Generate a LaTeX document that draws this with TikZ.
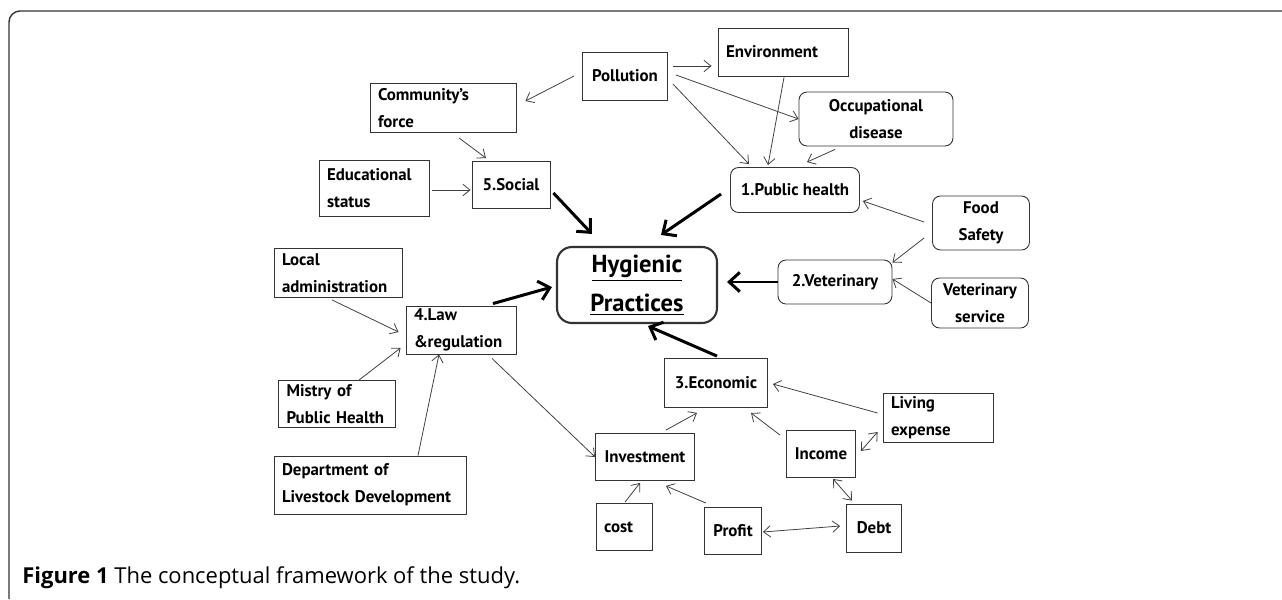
\documentclass[tikz,border=0pt]{standalone}
\usepackage{fontspec}
\usepackage{tikz}
\usetikzlibrary{arrows.meta,calc}
\newfontfamily\diagfont{PT Sans}
\newfontfamily\capfont{Open Sans}

\begin{document}
\begin{tikzpicture}[x=0.02cm,y=-0.02cm,
  box/.style={draw=black!80, line width=0.5pt, inner sep=0pt, align=center,
    font=\diagfont\bfseries\fontsize{9.6}{15.5}\selectfont},
  lbox/.style={box, align=left, inner xsep=0.16cm},
  rbox/.style={box, rounded corners=0.16cm},
  link/.style={draw=black!75, line width=0.45pt, -{Straight Barb[length=4pt,width=6.5pt]}},
  both/.style={link, {Straight Barb[length=4pt,width=6.5pt]}-{Straight Barb[length=4pt,width=6.5pt]}},
  main/.style={line width=1.7pt, -{Straight Barb[length=6pt,width=11pt]}}]
\useasboundingbox (0,0) rectangle (1282,599);
\draw[black!80, line width=0.8pt, rounded corners=0.22cm] (9,599) -- (9,11) -- (1282,11);

% boxes
\node[box, minimum width=1.70cm, minimum height=0.96cm] (poll) at (625,76) {Pollution};
\node[lbox, text width=2.28cm, minimum height=0.96cm] (env) at (783,52) {Environment};
\node[lbox, text width=2.60cm, minimum height=0.98cm] (comm) at (443,108) {Community’s\\force};
\node[rbox, minimum width=3.08cm, minimum height=1.08cm] (occ) at (876,119) {Occupational\\disease};
\node[rbox, minimum width=2.58cm, minimum height=0.90cm] (ph) at (795,190) {1.Public health};
\node[lbox, text width=1.88cm, minimum height=1.12cm] (edu) at (374,188) {Educational\\status};
\node[box, minimum width=1.56cm, minimum height=0.94cm] (soc) at (511,185) {5.Social};
\node[box, line width=1.2pt, rounded corners=0.3cm, minimum width=3.20cm, minimum height=1.52cm,
  font=\diagfont\bfseries\fontsize{14}{22}\selectfont] (hyg) at (637,285) {\underline{Hygienic}\\\underline{Practices}};
\node[lbox, text width=2.24cm, minimum height=0.98cm] (loc) at (338,273) {Local\\administration};
\node[lbox, text width=1.88cm, minimum height=0.96cm] (law) at (461,330) {4.Law\\\&regulation};
\node[rbox, minimum width=2.28cm, minimum height=0.88cm] (vet) at (835,282) {2.Veterinary};
\node[rbox, minimum width=1.94cm, minimum height=1.08cm] (food) at (981,223) {Food\\Safety};
\node[rbox, minimum width=1.94cm, minimum height=1.00cm] (vserv) at (980,303) {Veterinary\\service};
\node[box, minimum width=2.06cm, minimum height=0.98cm] (eco) at (716,383) {3.Economic};
\node[lbox, text width=1.88cm, minimum height=0.98cm] (liv) at (938,418) {Living\\expense};
\node[box, minimum width=1.38cm, minimum height=0.94cm] (inc) at (821,454) {Income};
\node[box, minimum width=1.10cm, minimum height=0.96cm] (debt) at (874,528) {Debt};
\node[lbox, text width=2.02cm, minimum height=0.94cm] (mis) at (337,404) {Mistry of\\Public Health};
\node[lbox, text width=3.52cm, minimum height=1.16cm] (dep) at (370,485) {Department of\\Livestock Development};
\node[box, minimum width=1.98cm, minimum height=0.94cm] (inv) at (645,457) {Investment};
\node[lbox, text width=0.80cm, minimum height=0.94cm] (cost) at (624,527) {cost};
\node[box, minimum width=1.14cm, minimum height=0.94cm] (prof) at (733,531) {Profit};

% thin links
\draw[link] ($(poll.east)+(5,-10)$) -- ($(env.west)+(-6,14)$);
\draw[link] ($(poll.west)+(-8,0)$) -- ($(comm.east)+(9,-7)$);
\draw[link] ($(poll.east)+(8,-1)$) -- (occ.west);
\draw[link] ($(poll.east)+(5,8)$) -- ($(ph.north)+(-46,-3)$);
\draw[link] ($(env.south)+(1,1)$) -- ($(ph.north)+(-27,-2)$);
\draw[link] ($(occ.south)+(-41,3)$) -- ($(ph.north)+(12,-5)$);
\draw[link] ($(comm.south)+(16,5)$) -- ($(soc.north)+(-25,-3)$);
\draw[link] ($(edu.east)+(3,2)$) -- ($(soc.west)+(-1,5)$);
\draw[link] ($(food.west)+(-8,-1)$) -- ($(ph.east)+(3,11)$);
\draw[link] ($(food.west)+(-8,15)$) -- ($(vet.north east)+(0,3)$);
\draw[link] (vserv.west) -- ($(vet.east)+(0,-3)$);
\draw[link] ($(liv.west)+(-5,-5)$) -- ($(eco.east)+(5,1)$);
\draw[link] ($(inc.north west)+(-6,5)$) -- ($(eco.south)+(35,5)$);
\draw[link] ($(inv.north)+(21,-3)$) -- ($(eco.south)+(-19,5)$);
\draw[both] ($(inc.east)+(5,-3)$) -- ($(liv.west)+(-5,14)$);
\draw[both] ($(inc.south)+(12,1)$) -- ($(debt.north)+(-22,-3)$);
\draw[both] ($(prof.east)+(1,1)$) -- ($(debt.west)+(-6,-2)$);
\draw[link] ($(prof.north)+(-27,-4)$) -- ($(inv.south)+(21,5)$);
\draw[link] ($(cost.north)+(1,-1)$) -- ($(inv.south)+(-5,2)$);
\draw[link] ($(law.south)+(31,4)$) -- (inv.west);
\draw[link] ($(loc.south)+(-6,2)$) -- ($(law.west)+(-7,2)$);
\draw[link] ($(mis.north)+(22,0)$) -- ($(law.west)+(-5,18)$);
\draw[link] ($(dep.north)+(48,0)$) -- ($(law.south)+(-22,0)$);

% thick links
\draw[main] ($(soc.east)+(3,8)$) -- ($(hyg.north)+(-45,-12)$);
\draw[main] ($(ph.west)+(-9,4)$) -- ($(hyg.north)+(24,-11)$);
\draw[main] ($(law.north)+(32,-2)$) -- ($(hyg.west)+(-4,2)$);
\draw[main] (vet.west) -- ($(hyg.east)+(9,-3)$);
\draw[main] ($(eco.north)+(1,-2)$) -- ($(hyg.south)+(11,2)$);

\node[anchor=west, inner sep=0pt, font=\capfont\fontsize{12.5}{14}\selectfont] (cap) at (22,578)
  {\textbf{Figure 1} The conceptual framework of the study.};
\end{tikzpicture}
\end{document}
